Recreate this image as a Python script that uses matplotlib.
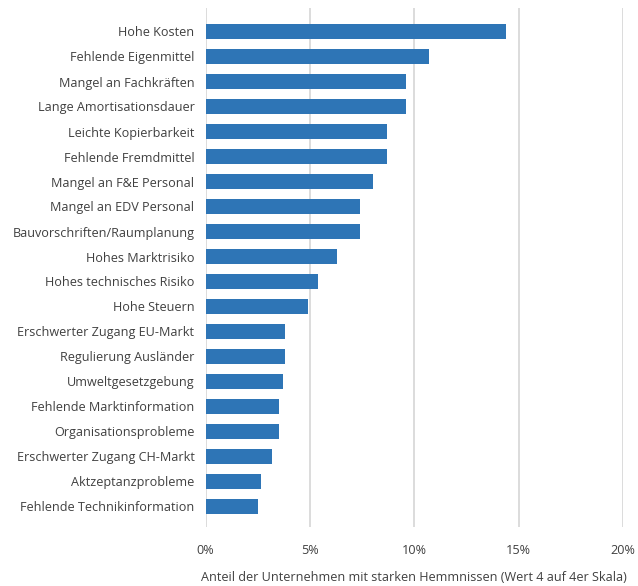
import matplotlib
matplotlib.use("Agg")
import matplotlib.pyplot as plt
from matplotlib.ticker import PercentFormatter

plt.rcParams['font.family'] = ['Open Sans', 'DejaVu Sans']

# Hemmnisse, von oben nach unten
labels = ["Hohe Kosten", "Fehlende Eigenmittel", "Mangel an Fachkräften",
          "Lange Amortisationsdauer", "Leichte Kopierbarkeit", "Fehlende Fremdmittel",
          "Mangel an F&E Personal", "Mangel an EDV Personal", "Bauvorschriften/Raumplanung",
          "Hohes Marktrisiko", "Hohes technisches Risiko", "Hohe Steuern",
          "Erschwerter Zugang EU-Markt", "Regulierung Ausländer", "Umweltgesetzgebung",
          "Fehlende Marktinformation", "Organisationsprobleme", "Erschwerter Zugang CH-Markt",
          "Aktzeptanzprobleme", "Fehlende Technikinformation"]
values = [14.4, 10.7, 9.6, 9.6, 8.7, 8.7, 8.0, 7.4, 7.4, 6.3,
          5.4, 4.9, 3.8, 3.8, 3.7, 3.5, 3.5, 3.2, 2.65, 2.5]
xticks = [0, 5, 10, 15, 20]

txt = '#404040'
fs = 9.1
fig = plt.figure(figsize=(6.38, 5.86), dpi=100)
ax = fig.add_axes([205.5/638, 1 - 527/586, (623 - 205.5)/638, (527 - 8)/586])

pos = list(range(len(labels)))
ax.barh(pos, values, height=0.6, color='#2e75b6', zorder=3)
ax.set_ylim(len(labels) - 0.5 + 0.32, -0.5 - 0.44)
ax.set_xlim(0, 20)
ax.set_yticks(pos)
ax.set_yticklabels(labels, fontsize=fs, color=txt)
ax.set_xticks(xticks)
ax.xaxis.set_major_formatter(PercentFormatter(decimals=0))
ax.tick_params(axis='x', length=0, pad=12, labelsize=fs, labelcolor=txt)
ax.tick_params(axis='y', length=0, pad=8)
ax.grid(axis='x', color='#d9d9d9', linewidth=1.3, zorder=0)
for s in ax.spines.values():
    s.set_visible(False)
ax.set_xlabel("Anteil der Unternehmen mit starken Hemmnissen (Wert 4 auf 4er Skala)",
              fontsize=fs, color=txt, labelpad=10)

fig.savefig("out.png", dpi=100)
